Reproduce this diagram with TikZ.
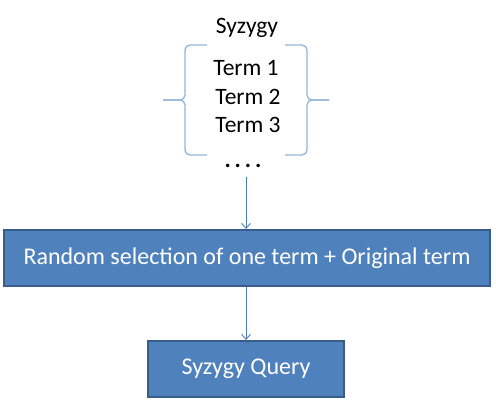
\documentclass[tikz,border=0pt]{standalone}
\usepackage{fontspec}
\setmainfont{Carlito}
\usepackage{tikz}
\usetikzlibrary{arrows.meta,positioning}
\definecolor{boxfill}{HTML}{4F81BD}
\definecolor{boxline}{HTML}{385D8A}
\definecolor{braceline}{HTML}{95B3D7}
\definecolor{arrowline}{HTML}{4A7EBB}
\tikzset{
  stepbox/.style={draw=boxline, fill=boxfill, line width=2pt, align=center, text=white, font=\fontsize{24}{28}\selectfont},
  termtext/.style={align=center, inner sep=0pt, font=\fontsize{23.5}{28}\selectfont},
  curly/.style={draw=braceline, line width=1.3pt, rounded corners=5pt},
  flow/.style={-{Straight Barb[length=5pt,width=9pt]}, draw=arrowline, line width=0.9pt}
}

\begin{document}
\begin{tikzpicture}[x=1pt,y=-1pt]
\useasboundingbox (0,0) rectangle (496,409);
\node[termtext] (title) at (247,28) {Syzygy};
\node[termtext] (t1) at (246,68) {Term 1};
\node[termtext] (t2) at (248,97) {Term 2};
\node[termtext] (t3) at (248,125) {Term 3};
\node[termtext] (dots) at (243,166) {\textbf{.\,.\,.\,.}};
% braces
\draw[curly] (207,45) -- (185,45) -- (185,100) -- (163,100);
\draw[curly] (163,100) -- (185,100) -- (185,155) -- (207,155);
\draw[curly] (285,45) -- (307,45) -- (307,100) -- (329,100);
\draw[curly] (329,100) -- (307,100) -- (307,155) -- (285,155);
\node[stepbox, minimum width=486pt, minimum height=56pt] (select) at (247,258) {Random selection of one term + Original term};
\node[stepbox, minimum width=196pt, minimum height=56pt] (query) at (246,369) {Syzygy Query};
\coordinate (dotsend) at (246,177);
\draw[flow] (dotsend) -- (dotsend |- select.north);
\draw[flow] (select.south -| query.north) -- (query.north);
\end{tikzpicture}
\end{document}
